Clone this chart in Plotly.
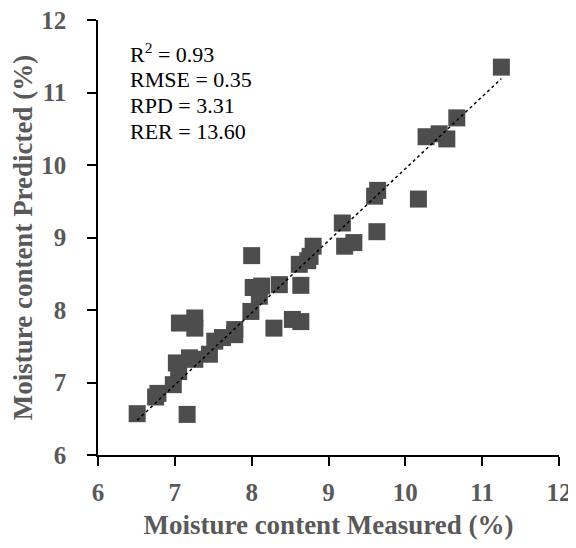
import plotly.graph_objects as go

measured = [6.51, 7.16, 6.75, 6.78, 6.98, 7.02, 7.26, 7.45, 7.52, 7.78, 7.06, 7.26, 7.26,
            8.00, 8.02, 8.13, 8.36, 8.10, 7.99, 7.78, 8.29, 8.53, 8.64, 8.64, 8.62, 8.76, 8.80,
            9.21, 8.73, 9.18, 9.33, 9.63, 9.64, 9.60, 10.17, 11.25, 10.67, 10.27, 10.44, 10.54,
            7.19, 7.62, 7.05]
predicted = [6.57, 6.56, 6.80, 6.85, 6.97, 7.27, 7.32, 7.39, 7.57, 7.73, 7.82, 7.89, 7.75,
             8.75, 8.31, 8.33, 8.35, 8.19, 7.98, 7.66, 7.75, 7.87, 7.84, 8.34, 8.63, 8.74, 8.88,
             8.88, 8.68, 9.20, 8.93, 9.08, 9.65, 9.57, 9.53, 11.35, 10.65, 10.39, 10.43, 10.36,
             7.34, 7.62, 7.15]

# trendline as drawn in the source chart
trend_slope = 0.994
trend_intercept = 0.009

stats_lines = ["R<sup>2</sup> = 0.93", "RMSE = 0.35", "RPD = 3.31", "RER = 13.60"]
stats_y = [0.925, 0.863, 0.803, 0.744]

x0, x1 = min(measured), max(measured)
xl = [x0, x1]
yl = [trend_slope * v + trend_intercept for v in xl]

fig = go.Figure()
fig.add_trace(go.Scatter(x=measured, y=predicted, mode="markers",
                         marker=dict(symbol="square", size=17, color="#4d4d4d"),
                         showlegend=False))
fig.add_trace(go.Scatter(x=xl, y=yl, mode="lines",
                         line=dict(color="black", width=1.5, dash="dot"),
                         showlegend=False))

tick_font = dict(family="Liberation Serif", size=25, color="#595959", weight="bold")
title_font = dict(family="Liberation Serif", size=27, color="#595959")
common = dict(range=[6, 12], dtick=1, showgrid=False, zeroline=False,
              showline=True, linecolor="black", linewidth=1.5,
              ticks="outside", ticklen=9, tickwidth=1.5, tickcolor="black",
              tickfont=tick_font, automargin=False, ticklabeloverflow="allow")
fig.update_xaxes(**common, ticklabelstandoff=5,
                 title=dict(text="<b>Moisture content Measured (%)</b>", font=title_font,
                            standoff=10))
fig.update_yaxes(**common, ticklabelstandoff=16,
                 title=dict(text="<b>Moisture content Predicted (%)</b>", font=title_font,
                            standoff=2))

for txt, yy in zip(stats_lines, stats_y):
    fig.add_annotation(xref="paper", yref="paper", x=0.064, y=yy, xanchor="left",
                       yanchor="middle", text=txt, showarrow=False, align="left",
                       font=dict(family="Liberation Serif", size=22, color="black"))

fig.update_layout(width=568, height=540, plot_bgcolor="white", paper_bgcolor="white",
                  margin=dict(l=90, r=17, t=12, b=93))
fig.write_html("out.html")
